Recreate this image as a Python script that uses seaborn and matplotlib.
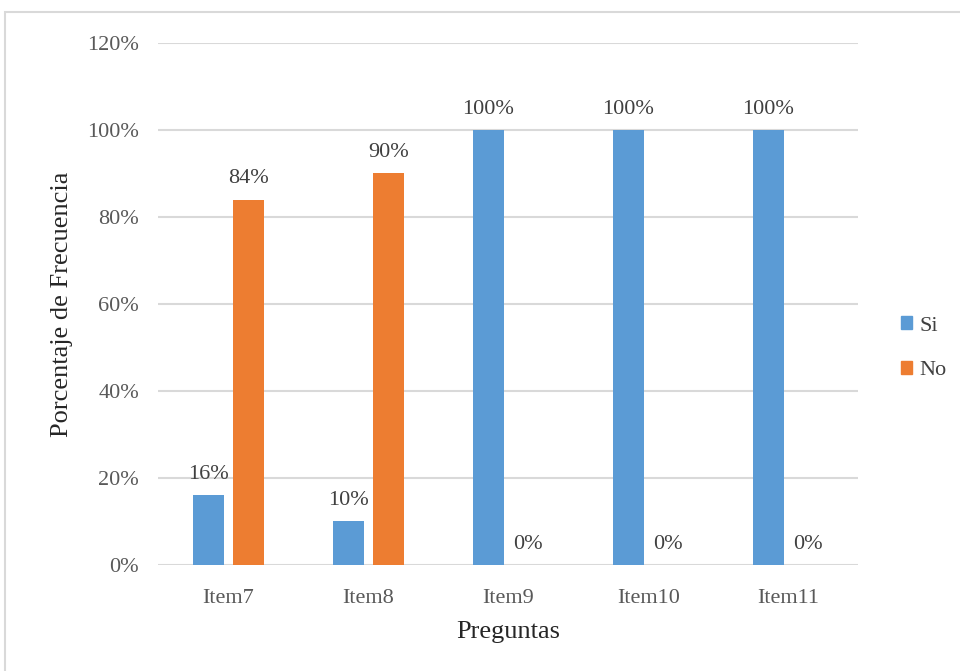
import numpy as np
import pandas as pd
import matplotlib.pyplot as plt
import matplotlib.patches as mpatches
import seaborn as sns

# Data
preguntas = ["Item7", "Item8", "Item9", "Item10", "Item11"]
si_vals = [0.16, 0.10, 1.00, 1.00, 1.00]
no_vals = [0.84, 0.90, 0.00, 0.00, 0.00]
respuestas = ["Si", "No"]
colores = ["#5B9BD5", "#ED7D31"]

df = pd.DataFrame({
    "Pregunta": preguntas * 2,
    "Respuesta": ["Si"] * len(preguntas) + ["No"] * len(preguntas),
    "Valor": si_vals + no_vals,
})

sns.set_theme(style="white")
plt.rcParams['font.family'] = ['Liberation Serif', 'DejaVu Serif']

fig = plt.figure(figsize=(9.6, 6.71), dpi=100)
ax = fig.add_axes([0.165, 0.158, 0.729, 0.778])

# outer chart border (Excel style)
fig.patches.append(mpatches.Rectangle((5 / 960, -0.05), 1.1, 1 - 12 / 671 + 0.05,
                                      transform=fig.transFigure, fill=False,
                                      edgecolor="#d9d9d9", linewidth=1.5))

sns.barplot(data=df, x="Pregunta", y="Valor", hue="Respuesta", hue_order=respuestas,
            palette=colores, width=0.571, gap=0.23, saturation=1, ax=ax,
            edgecolor="none")

ax.set_ylim(0, 1.2)
ax.set_xlim(-0.5, len(preguntas) - 0.5)
ax.set_yticks(np.arange(0, 1.21, 0.2))
ax.set_yticklabels([f"{int(round(t * 100))}%" for t in np.arange(0, 1.21, 0.2)])
ax.yaxis.grid(True, color="#d9d9d9", linewidth=1.5)
ax.set_axisbelow(True)
for s in ax.spines.values():
    s.set_visible(False)
ax.tick_params(axis="both", length=0, labelsize=16, labelcolor="#595959")
ax.tick_params(axis="y", pad=14)
ax.tick_params(axis="x", pad=17)

for cont in ax.containers:
    ax.bar_label(cont, labels=[f"{v:.0%}" for v in cont.datavalues],
                 padding=8, fontsize=16, color="#404040")

ax.set_xlabel("Preguntas", fontsize=19, color="#262626", labelpad=10)
ax.set_ylabel("Porcentaje de Frecuencia", fontsize=19, color="#262626", labelpad=10)

handles = [mpatches.Patch(color=c, label=r) for c, r in zip(colores, respuestas)]
ax.legend(handles=handles, loc="center left", bbox_to_anchor=(1.033, 0.415),
          frameon=False, fontsize=16, handlelength=0.5, handleheight=0.5,
          handletextpad=0.3, labelspacing=1.15, labelcolor="#404040")

fig.savefig("out.png", dpi=100, facecolor="white")
